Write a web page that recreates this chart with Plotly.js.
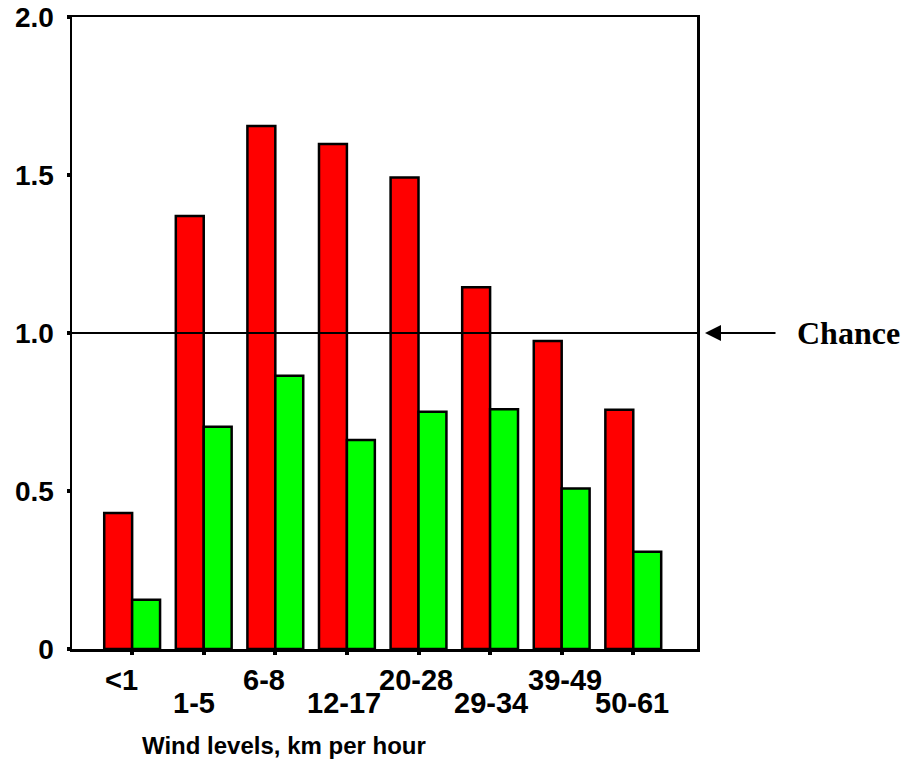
<!DOCTYPE html>
<html>
<head>
<meta charset="utf-8">
<script src="https://cdn.plot.ly/plotly-3.0.1.min.js"></script>
<style>html,body{margin:0;padding:0;background:#fff;}#chart{width:923px;height:766px;}</style>
</head>
<body>
<div id="chart"></div>
<script>
// Data
const categories = ["<1", "1-5", "6-8", "12-17", "20-28", "29-34", "39-49", "50-61"];
const redValues = [0.43, 1.37, 1.655, 1.598, 1.492, 1.145, 0.975, 0.757];
const greenValues = [0.156, 0.703, 0.865, 0.661, 0.751, 0.759, 0.508, 0.308];
const yTickVals = [0, 0.5, 1.0, 1.5, 2.0];
const yTickText = ["0", "0.5", "1.0", "1.5", "2.0"];
const chanceLevel = 1.0;

// Style
const labelShift = [-11, -10, -11, -3, -3, 1, 3, -1];
const FONT = "Liberation Sans, Arial, sans-serif";
const xIdx = categories.map((c, i) => i);

const traces = [
  {type: "bar", x: xIdx, y: redValues, name: "red",
   marker: {color: "#ff0000", line: {color: "#000", width: 2.5}}},
  {type: "bar", x: xIdx, y: greenValues, name: "green",
   marker: {color: "#00ff00", line: {color: "#000", width: 2.5}}}
];

const L = 72, R = 697, T = 17, B = 649;
const pw = R - L;
const annotations = categories.map((c, i) => ({
  x: i, xref: "x", y: 0, yref: "paper", yanchor: "middle",
  yshift: (i % 2 === 0) ? -31 : -54, xshift: labelShift[i],
  text: "<b>" + c.replace("<", "&lt;") + "</b>", showarrow: false,
  font: {family: FONT, size: 29, color: "#000"}
}));
annotations.push({
  x: (140 - L) / pw, xref: "paper", xanchor: "left",
  y: 0, yref: "paper", yanchor: "middle", yshift: -96,
  text: "<b>Wind levels, km per hour</b>", showarrow: false,
  font: {family: FONT, size: 24, color: "#000"}
});
annotations.push({
  x: (705 - L) / pw, xref: "paper", y: chanceLevel, yref: "y",
  ax: 72, ay: 0, axref: "pixel", ayref: "pixel",
  text: "", showarrow: true, arrowhead: 2, arrowsize: 1.6, arrowwidth: 2, arrowcolor: "#000"
});
annotations.push({
  x: (795 - L) / pw, xref: "paper", xanchor: "left", y: chanceLevel, yref: "y", yanchor: "middle",
  text: "<b>Chance</b>", showarrow: false,
  font: {family: "Liberation Serif, Times New Roman, serif", size: 32, color: "#000"}
});

const layout = {
  width: 923, height: 766,
  margin: {l: L, r: 923 - R, t: T, b: 766 - B},
  paper_bgcolor: "#fff", plot_bgcolor: "#fff",
  showlegend: false,
  barmode: "group", bargap: 0.22, bargroupgap: 0,
  xaxis: {
    range: [-0.84, 7.89], tickvals: xIdx, showticklabels: false,
    ticks: "outside", ticklen: 3, tickwidth: 4, tickcolor: "#000",
    showgrid: false, zeroline: false,
    showline: true, linecolor: "#000", linewidth: 2.5, mirror: true
  },
  yaxis: {
    range: [0, 2], tickvals: yTickVals, ticktext: yTickText,
    ticks: "outside", ticklen: 3, tickwidth: 4, tickcolor: "#000",
    ticklabelstandoff: 7,
    tickfont: {family: FONT, size: 28, color: "#000", weight: "bold"},
    showgrid: false, zeroline: false,
    showline: true, linecolor: "#000", linewidth: 2.5, mirror: true
  },
  shapes: [{
    type: "line", xref: "paper", yref: "y", x0: 0, x1: 1, y0: chanceLevel, y1: chanceLevel,
    line: {color: "#000", width: 2}, layer: "above"
  }],
  annotations: annotations
};

Plotly.newPlot("chart", traces, layout, {displayModeBar: false, staticPlot: true});
</script>
</body>
</html>
